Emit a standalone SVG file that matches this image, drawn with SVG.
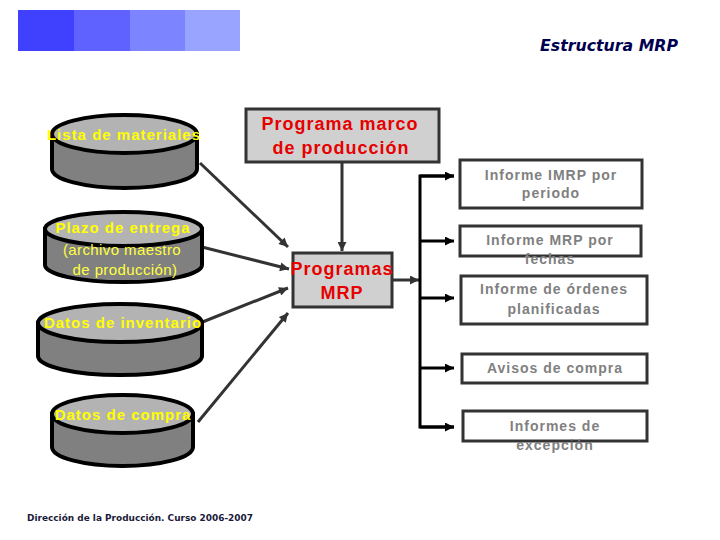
<svg xmlns="http://www.w3.org/2000/svg" width="720" height="540" viewBox="0 0 720 540">
<style>
.cylbody{fill:#808080;stroke:#000;stroke-width:4}
.cyltop{fill:#B3B3B3;stroke:#000;stroke-width:4}
.ytitle{font-family:"Liberation Sans",Arial,sans-serif;font-size:15px;font-weight:bold;fill:#FFFF00;letter-spacing:1px;text-anchor:middle}
.ysub{font-family:"Liberation Sans",Arial,sans-serif;font-size:15px;fill:#FFFF40;letter-spacing:0.4px;text-anchor:middle}
.pbox{fill:#D0D0D0;stroke:#333;stroke-width:3}
.ptext{font-family:"Liberation Sans",Arial,sans-serif;font-size:18px;font-weight:bold;fill:#E60000;letter-spacing:1px;text-anchor:middle}
.rbox{fill:#FFF;stroke:#333;stroke-width:3}
.rtext{font-family:"Liberation Sans",Arial,sans-serif;font-size:14px;font-weight:bold;fill:#808080;letter-spacing:1px;text-anchor:middle}
.conn{stroke:#333;stroke-width:3;fill:none}
.bus{stroke:#000;stroke-width:3;fill:none}
</style>
<defs>
<marker id="ah" viewBox="0 0 10 10" refX="10" refY="5" markerWidth="10" markerHeight="9" markerUnits="userSpaceOnUse" orient="auto">
<path d="M0,0 L10,5 L0,10 Z" fill="#333"/>
</marker>
<marker id="ahb" viewBox="0 0 10 10" refX="10" refY="5" markerWidth="10" markerHeight="9" markerUnits="userSpaceOnUse" orient="auto">
<path d="M0,0 L10,5 L0,10 Z" fill="#000"/>
</marker>
</defs>
<rect width="720" height="540" fill="#FFF"/>
<g id="header">
<rect x="18" y="10" width="56" height="41" fill="#4040FF"/>
<rect x="74" y="10" width="56" height="41" fill="#6062FF"/>
<rect x="130" y="10" width="55" height="41" fill="#7C84FF"/>
<rect x="185" y="10" width="55" height="41" fill="#98A4FF"/>
<text x="540" y="51" font-family="'DejaVu Sans',sans-serif" font-size="15" font-style="italic" font-weight="bold" fill="#000050" textLength="138" lengthAdjust="spacingAndGlyphs">Estructura MRP</text>
</g>
<g id="connectors">
<line class="conn" x1="342" y1="162" x2="342" y2="251" marker-end="url(#ah)"/>
<line class="conn" x1="200" y1="163" x2="288" y2="247" marker-end="url(#ah)"/>
<line class="conn" x1="202" y1="247" x2="289" y2="269" marker-end="url(#ah)"/>
<line class="conn" x1="200" y1="323" x2="288" y2="288" marker-end="url(#ah)"/>
<line class="conn" x1="198" y1="422" x2="288" y2="313" marker-end="url(#ah)"/>
<line class="conn" x1="393" y1="280" x2="419" y2="280" marker-end="url(#ah)"/>
<polyline class="bus" points="454,176 420,176 420,427 454,427"/>
<line class="bus" x1="420" y1="176" x2="454" y2="176" marker-end="url(#ahb)"/>
<line class="bus" x1="420" y1="241" x2="454" y2="241" marker-end="url(#ahb)"/>
<line class="bus" x1="420" y1="298" x2="454" y2="298" marker-end="url(#ahb)"/>
<line class="bus" x1="420" y1="368" x2="454" y2="368" marker-end="url(#ahb)"/>
<line class="bus" x1="420" y1="427" x2="454" y2="427" marker-end="url(#ahb)"/>
</g>
<g id="cyl-lista">
<path class="cylbody" d="M52,134 L52,169 A72.5,19 0 0 0 197,169 L197,134 Z"/>
<ellipse class="cyltop" cx="124.5" cy="134" rx="72.5" ry="19"/>
<text class="ytitle" x="124" y="140">Lista de materiales</text>
</g>
<g id="cyl-plazo">
<path class="cylbody" d="M45,229 L45,265 A78,17 0 0 0 202,265 L202,229 Z"/>
<ellipse class="cyltop" cx="123.5" cy="229" rx="78.5" ry="17"/>
<text class="ytitle" x="123" y="233">Plazo de entrega</text>
<text class="ysub" x="122" y="255">(archivo maestro</text>
<text class="ysub" x="125" y="275">de producción)</text>
</g>
<g id="cyl-inventario">
<path class="cylbody" d="M38,323 L38,356 A82,19 0 0 0 202,356 L202,323 Z"/>
<ellipse class="cyltop" cx="120" cy="323" rx="82" ry="19"/>
<text class="ytitle" x="123" y="328">Datos de inventario</text>
</g>
<g id="cyl-compra">
<path class="cylbody" d="M52,414 L52,447 A70.5,19 0 0 0 193,447 L193,414 Z"/>
<ellipse class="cyltop" cx="122.5" cy="414" rx="70.5" ry="19"/>
<text class="ytitle" x="123" y="420">Datos de compra</text>
</g>
<g id="programa-marco">
<rect class="pbox" x="246" y="109" width="193" height="53"/>
<text class="ptext" x="340" y="130">Programa marco</text>
<text class="ptext" x="341" y="154">de producción</text>
</g>
<g id="programas-mrp">
<rect class="pbox" x="293" y="253" width="99" height="54"/>
<text class="ptext" x="342" y="275">Programas</text>
<text class="ptext" x="342" y="299">MRP</text>
</g>
<g id="r1">
<rect class="rbox" x="460" y="160" width="182" height="48"/>
<text class="rtext" x="551" y="180">Informe IMRP por</text>
<text class="rtext" x="551" y="198">periodo</text>
</g>
<g id="r2">
<rect class="rbox" x="460" y="226" width="181" height="30"/>
<text class="rtext" x="550" y="245">Informe MRP por</text>
<text class="rtext" x="550" y="264">fechas</text>
</g>
<g id="r3">
<rect class="rbox" x="461" y="276" width="186" height="48"/>
<text class="rtext" x="554" y="294">Informe de órdenes</text>
<text class="rtext" x="554" y="314">planificadas</text>
</g>
<g id="r4">
<rect class="rbox" x="462" y="354" width="185" height="29"/>
<text class="rtext" x="555" y="373">Avisos de compra</text>
</g>
<g id="r5">
<rect class="rbox" x="463" y="411" width="184" height="30"/>
<text class="rtext" x="555" y="431">Informes de</text>
<text class="rtext" x="555" y="450">excepción</text>
</g>
<g id="footer">
<text x="27" y="521" font-family="'DejaVu Sans',sans-serif" font-size="9" font-weight="bold" fill="#1a1a3a" textLength="226" lengthAdjust="spacingAndGlyphs">Dirección de la Producción. Curso 2006-2007</text>
</g>
</svg>
